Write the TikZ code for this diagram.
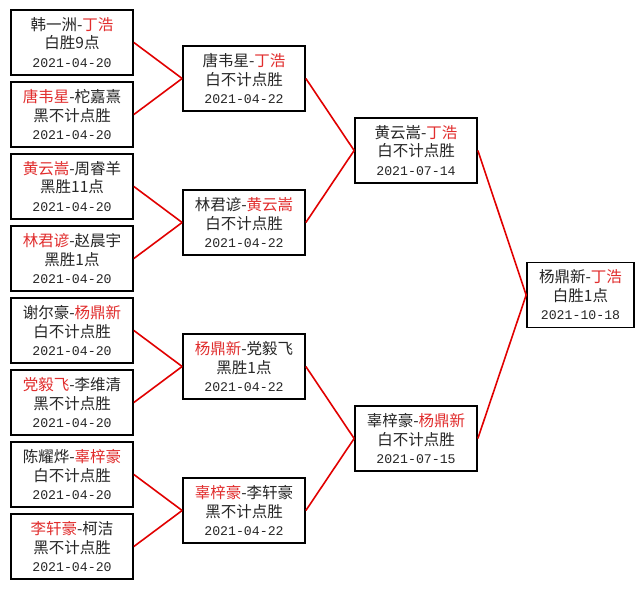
\documentclass[tikz,border=0pt]{standalone}
\usepackage{fontspec}
\setmainfont{Noto Sans CJK SC}
\newfontfamily\datefont{Liberation Mono}
\definecolor{txtred}{RGB}{225,45,45}
\definecolor{linered}{RGB}{225,0,0}
\newcommand{\rn}[1]{\textcolor{txtred}{#1}}
\newcommand{\dt}[1]{{\datefont\fontsize{13.2}{18.5}\selectfont #1}}
\begin{document}
\begin{tikzpicture}[x=1pt,y=-1pt,
  game/.style={draw=black,line width=1.7pt,minimum width=122pt,minimum height=65pt,
    inner sep=0pt,align=center,font=\fontsize{15.5}{18.5}\selectfont,text=black!85},
  link/.style={draw=linered,line width=1.6pt}]
\useasboundingbox (0,0) rectangle (644,589);
\fill[white] (0,0) rectangle (644,589);
% round 1
\node[game] (a1) at (72,42.5) {韩一洲-\rn{丁浩}\\白胜9点\\\dt{2021-04-20}};
\node[game] (a2) at (72,114.5) {\rn{唐韦星}-柁嘉熹\\黑不计点胜\\\dt{2021-04-20}};
\node[game] (a3) at (72,186.5) {\rn{黄云嵩}-周睿羊\\黑胜11点\\\dt{2021-04-20}};
\node[game] (a4) at (72,258.5) {\rn{林君谚}-赵晨宇\\黑胜1点\\\dt{2021-04-20}};
\node[game] (a5) at (72,330.5) {谢尔豪-\rn{杨鼎新}\\白不计点胜\\\dt{2021-04-20}};
\node[game] (a6) at (72,402.5) {\rn{党毅飞}-李维清\\黑不计点胜\\\dt{2021-04-20}};
\node[game] (a7) at (72,474.5) {陈耀烨-\rn{辜梓豪}\\白不计点胜\\\dt{2021-04-20}};
\node[game] (a8) at (72,546.5) {\rn{李轩豪}-柯洁\\黑不计点胜\\\dt{2021-04-20}};
% round 2
\node[game] (b1) at (244,78.5) {唐韦星-\rn{丁浩}\\白不计点胜\\\dt{2021-04-22}};
\node[game] (b2) at (244,222.5) {林君谚-\rn{黄云嵩}\\白不计点胜\\\dt{2021-04-22}};
\node[game] (b3) at (244,366.5) {\rn{杨鼎新}-党毅飞\\黑胜1点\\\dt{2021-04-22}};
\node[game] (b4) at (244,510.5) {\rn{辜梓豪}-李轩豪\\黑不计点胜\\\dt{2021-04-22}};
% round 3
\node[game] (c1) at (416,150.5) {黄云嵩-\rn{丁浩}\\白不计点胜\\\dt{2021-07-14}};
\node[game] (c2) at (416,438.5) {辜梓豪-\rn{杨鼎新}\\白不计点胜\\\dt{2021-07-15}};
% final
\node[game,minimum width=107pt] (d1) at (580.5,295) {杨鼎新-\rn{丁浩}\\白胜1点\\\dt{2021-10-18}};
% connectors
\draw[link] (a1.east) -- (b1.west);
\draw[link] (a2.east) -- (b1.west);
\draw[link] (a3.east) -- (b2.west);
\draw[link] (a4.east) -- (b2.west);
\draw[link] (a5.east) -- (b3.west);
\draw[link] (a6.east) -- (b3.west);
\draw[link] (a7.east) -- (b4.west);
\draw[link] (a8.east) -- (b4.west);
\draw[link] (b1.east) -- (c1.west);
\draw[link] (b2.east) -- (c1.west);
\draw[link] (b3.east) -- (c2.west);
\draw[link] (b4.east) -- (c2.west);
\draw[link] (c1.east) -- (d1.west);
\draw[link] (c2.east) -- (d1.west);
\end{tikzpicture}
\end{document}
